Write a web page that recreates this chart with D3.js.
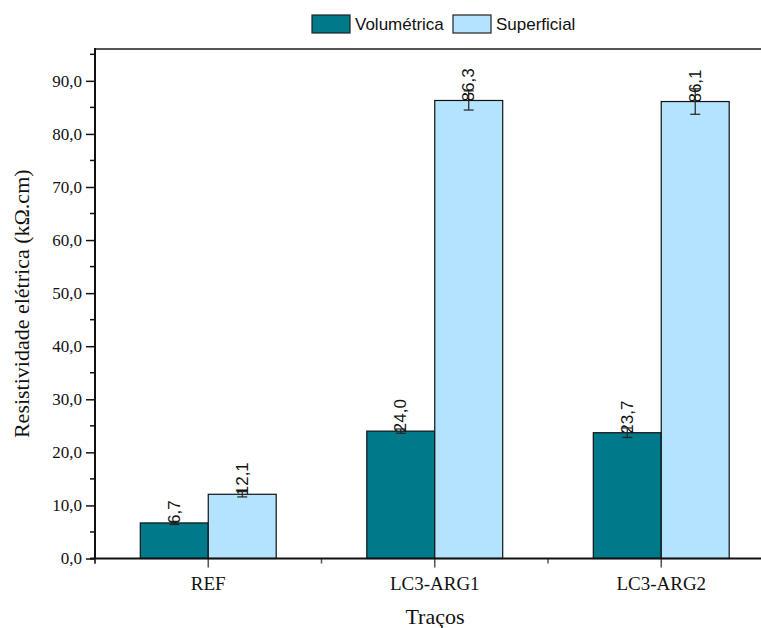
<!DOCTYPE html>
<html>
<head>
<meta charset="utf-8">
<script src="https://cdn.jsdelivr.net/npm/d3@7"></script>
<style>
  html, body { margin: 0; padding: 0; background: #fff; }
  svg { display: block; }
</style>
</head>
<body>
<svg id="chart" width="761" height="628"></svg>
<script>
// Resistividade elétrica por traço
const categories = ["REF", "LC3-ARG1", "LC3-ARG2"];
const seriesNames = ["Volumétrica", "Superficial"];
const volumetrica = [6.7, 24.0, 23.7];
const superficial = [12.1, 86.3, 86.1];
const volumetricaErr = [0.3, 0.4, 0.9];
const superficialErr = [0.5, 1.8, 2.4];
const yMajorTicks = [0, 10, 20, 30, 40, 50, 60, 70, 80, 90];
const yMinorTicks = [5, 15, 25, 35, 45, 55, 65, 75, 85, 95];

const colors = ["#00798A", "#B3E3FF"];
const fmt = v => v.toFixed(1).replace(".", ",");
const SERIF = "'Liberation Serif', 'Times New Roman', Times, serif";
const SANS = "'Liberation Sans', Arial, Helvetica, sans-serif";

(function draw() {
  const svg = d3.select("#chart");
  const W = 761;
  const plotLeft = 95, plotTop = 49, plotBottom = 558.5, plotRight = 774.5;

  const x = d3.scaleBand().domain(categories).range([plotLeft, plotRight]).paddingInner(0).paddingOuter(0);
  const y = d3.scaleLinear().domain([0, 96]).range([plotBottom, plotTop]);
  const barW = x.bandwidth() * 0.3;

  const series = [
    { name: seriesNames[0], values: volumetrica, errs: volumetricaErr, color: colors[0], off: -1 },
    { name: seriesNames[1], values: superficial, errs: superficialErr, color: colors[1], off: 0 }
  ];

  // bars
  series.forEach(s => {
    const g = svg.append("g");
    categories.forEach((c, i) => {
      const cx = x(c) + x.bandwidth() / 2;
      const x0 = cx + s.off * barW;
      g.append("rect")
        .attr("x", x0).attr("y", y(s.values[i]))
        .attr("width", barW).attr("height", y(0) - y(s.values[i]))
        .attr("fill", s.color).attr("stroke", "#111").attr("stroke-width", 1.2);
    });
  });

  // value labels
  series.forEach(s => {
    categories.forEach((c, i) => {
      const cx = x(c) + x.bandwidth() / 2 + (s.off + 0.5) * barW;
      svg.append("text")
        .style("font-family", SANS)
        .attr("transform", `translate(${cx},${y(s.values[i]) + 1}) rotate(-90)`)
        .attr("text-anchor", "start")
        .attr("dominant-baseline", "central")
        .style("font-size", "17px")
        .attr("fill", "#111")
        .text(fmt(s.values[i]));
    });
  });

  // error bars
  series.forEach(s => {
    categories.forEach((c, i) => {
      const cx = x(c) + x.bandwidth() / 2 + (s.off + 0.5) * barW;
      const hi = y(s.values[i] + s.errs[i]), lo = y(s.values[i] - s.errs[i]);
      const g = svg.append("g").attr("stroke", "#222").attr("stroke-width", 1.2);
      g.append("line").attr("x1", cx).attr("x2", cx).attr("y1", hi).attr("y2", lo);
      g.append("line").attr("x1", cx - 5).attr("x2", cx + 5).attr("y1", hi).attr("y2", hi);
      g.append("line").attr("x1", cx - 5).attr("x2", cx + 5).attr("y1", lo).attr("y2", lo);
    });
  });

  // top frame line
  svg.append("line")
    .attr("x1", plotLeft).attr("x2", W).attr("y1", plotTop).attr("y2", plotTop)
    .attr("stroke", "#555").attr("stroke-width", 2);

  // y axis
  const yAxis = svg.append("g").attr("transform", `translate(${plotLeft},0)`)
    .call(d3.axisLeft(y).tickValues(yMajorTicks).tickFormat(fmt).tickSize(9).tickPadding(4));
  yAxis.select(".domain").remove();
  yAxis.selectAll(".tick line").attr("stroke", "#111").attr("stroke-width", 1.5);
  yAxis.selectAll(".tick text")
    .style("font-family", SERIF)
    .style("font-size", "17px").attr("fill", "#111");
  svg.append("g").selectAll("line").data(yMinorTicks).join("line")
    .attr("x1", plotLeft - 5).attr("x2", plotLeft).attr("y1", d => y(d)).attr("y2", d => y(d))
    .attr("stroke", "#111").attr("stroke-width", 1.5);
  svg.append("line")
    .attr("x1", plotLeft).attr("x2", plotLeft).attr("y1", plotTop - 1).attr("y2", plotBottom + 5)
    .attr("stroke", "#111").attr("stroke-width", 2);

  // x axis
  const xAxis = svg.append("g").attr("transform", `translate(0,${plotBottom})`)
    .call(d3.axisBottom(x).tickSize(9).tickPadding(9));
  xAxis.select(".domain").remove();
  xAxis.selectAll(".tick line").attr("stroke", "#555").attr("stroke-width", 1.5);
  xAxis.selectAll(".tick text")
    .style("font-family", SERIF)
    .style("font-size", "19px").attr("fill", "#111");
  const bounds = categories.map(c => x(c)).concat([x(categories[categories.length - 1]) + x.bandwidth()]);
  svg.append("g").selectAll("line").data(bounds).join("line")
    .attr("x1", d => d).attr("x2", d => d).attr("y1", plotBottom).attr("y2", plotBottom + 5)
    .attr("stroke", "#555").attr("stroke-width", 1.5);
  svg.append("line")
    .attr("x1", plotLeft - 5).attr("x2", W).attr("y1", plotBottom).attr("y2", plotBottom)
    .attr("stroke", "#111").attr("stroke-width", 2);

  // axis titles
  svg.append("text")
    .style("font-family", SERIF)
    .attr("transform", `translate(29,${(plotTop + plotBottom) / 2}) rotate(-90)`)
    .attr("text-anchor", "middle")
    .style("font-size", "22px").attr("fill", "#111")
    .text("Resistividade elétrica (kΩ.cm)");
  svg.append("text")
    .style("font-family", SERIF)
    .attr("x", 435).attr("y", 624)
    .attr("text-anchor", "middle")
    .style("font-size", "22px").attr("fill", "#111")
    .text("Traços");

  // legend
  const legend = [
    { name: seriesNames[0], color: colors[0], x: 312 },
    { name: seriesNames[1], color: colors[1], x: 453 }
  ];
  legend.forEach(l => {
    svg.append("rect").attr("x", l.x).attr("y", 15).attr("width", 38).attr("height", 18)
      .attr("fill", l.color).attr("stroke", "#222").attr("stroke-width", 1.2);
    svg.append("text").style("font-family", SANS).attr("x", l.x + 43).attr("y", 30)
      .style("font-size", "17px").attr("fill", "#111")
      .text(l.name);
  });
})();
</script>
</body>
</html>
